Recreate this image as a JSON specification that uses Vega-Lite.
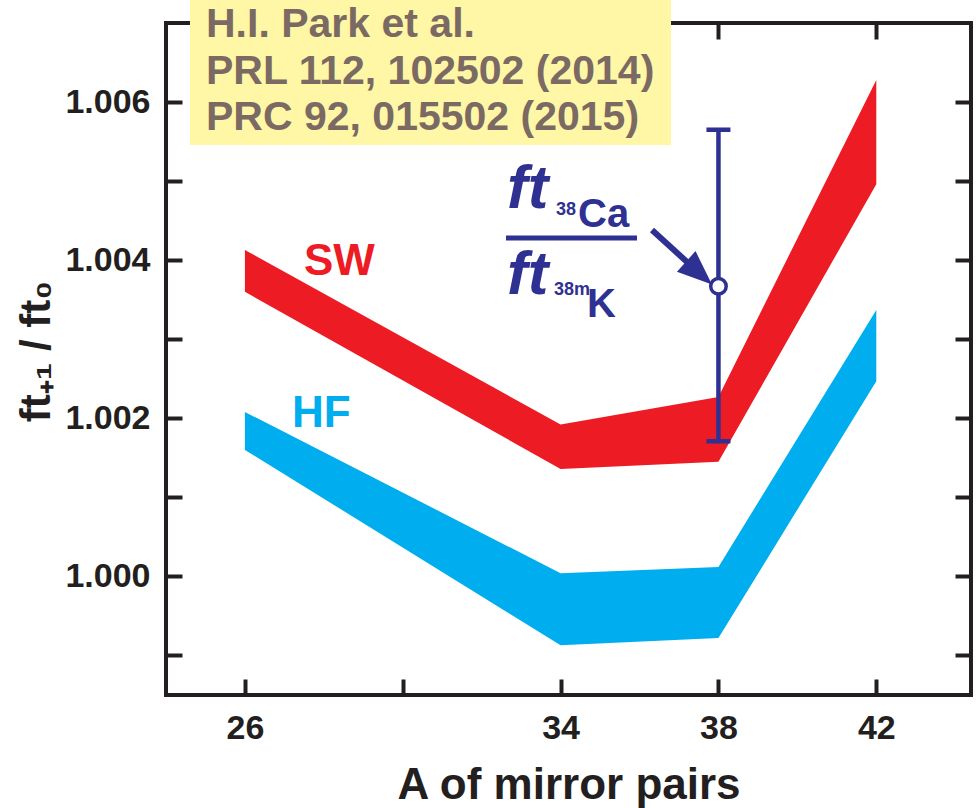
{
  "$schema": "https://vega.github.io/schema/vega-lite/v6.json",
  "width": 805,
  "height": 672,
  "autosize": {"type": "none"},
  "padding": {"left": 166, "top": 23, "right": 8, "bottom": 113},
  "background": "white",
  "config": {
    "view": {"stroke": "#231F20", "strokeWidth": 4},
    "font": "Liberation Sans",
    "axis": {
      "grid": false,
      "domain": false,
      "tickColor": "#231F20",
      "tickWidth": 4,
      "tickSize": -16,
      "labelFont": "Liberation Sans",
      "labelFontWeight": "bold",
      "labelFontSize": 34,
      "labelColor": "#231F20",
      "titleFont": "Liberation Sans",
      "titleFontWeight": "bold",
      "titleColor": "#231F20"
    }
  },
  "datasets": {
    "bands": [
      {"model": "SW", "A": 26, "lo": 1.0036, "hi": 1.00413},
      {"model": "SW", "A": 34, "lo": 1.00136, "hi": 1.00192},
      {"model": "SW", "A": 38, "lo": 1.00145, "hi": 1.00227},
      {"model": "SW", "A": 42, "lo": 1.00496, "hi": 1.00628},
      {"model": "HF", "A": 26, "lo": 1.0016, "hi": 1.00208},
      {"model": "HF", "A": 34, "lo": 0.99913, "hi": 1.00004},
      {"model": "HF", "A": 38, "lo": 0.99922, "hi": 1.00012},
      {"model": "HF", "A": 42, "lo": 1.00247, "hi": 1.00337}
    ],
    "meas": [{"A": 38, "val": 1.00367, "lo": 1.00171, "hi": 1.00565}],
    "box": [{"A": 24.608, "A2": 36.798, "v": 1.005457, "v2": 1.007291}],
    "cite": [
      {"A": 25.014, "v": 1.006823, "text": "H.I. Park et al."},
      {"A": 25.014, "v": 1.006228, "text": "PRL 112, 102502 (2014)"},
      {"A": 25.014, "v": 1.005647, "text": "PRC 92, 015502 (2015)"}
    ],
    "models": [
      {"model": "SW", "A": 27.497, "v": 1.003813},
      {"model": "HF", "A": 27.193, "v": 1.00189}
    ],
    "notes": [
      {"kind": "ft", "A": 32.642, "v": 1.00466, "t": "ft"},
      {"kind": "ft", "A": 32.642, "v": 1.003572, "t": "ft"},
      {"kind": "iso", "A": 33.883, "v": 1.004571, "t": "38"},
      {"kind": "iso", "A": 33.833, "v": 1.00356, "t": "38m"},
      {"kind": "el", "A": 34.441, "v": 1.00442, "t": "Ca"},
      {"kind": "el", "A": 34.669, "v": 1.003281, "t": "K"}
    ],
    "frac": [{"A": 32.616, "A2": 35.936, "v": 1.004281}],
    "arrow": [{"A": 36.316, "v": 1.004382, "A2": 37.51, "v2": 1.003838}]
  },
  "resolve": {"axis": {"x": "independent", "y": "independent"}},
  "layer": [
    {
      "data": {"name": "bands"},
      "mark": {"type": "area", "opacity": 1},
      "encoding": {
        "x": {
          "field": "A", "type": "quantitative",
          "scale": {"domain": [24, 44.4], "nice": false, "zero": false},
          "axis": {
            "orient": "bottom",
            "values": [26, 30, 34, 38, 42],
            "labelExpr": "datum.value == 30 ? '' : datum.label",
            "labelPadding": 32,
            "title": "A of mirror pairs",
            "titleFontSize": 44,
            "titlePadding": 18
          }
        },
        "y": {
          "field": "hi", "type": "quantitative",
          "scale": {"domain": [0.9985, 1.007], "nice": false, "zero": false},
          "axis": {
            "orient": "left",
            "values": [0.999, 1.0, 1.001, 1.002, 1.003, 1.004, 1.005, 1.006],
            "labelExpr": "round(datum.value * 1000) % 2 == 0 ? format(datum.value, '.3f') : ''",
            "labelPadding": 32,
            "title": "ft₊₁ / ft₀",
            "titleFontSize": 42,
            "titlePadding": 6,
            "titleY": 328
          }
        },
        "y2": {"field": "lo"},
        "color": {
          "field": "model", "type": "nominal",
          "scale": {"domain": ["SW", "HF"], "range": ["#ED1C24", "#00AEEF"]},
          "legend": null
        }
      }
    },
    {
      "data": {"name": "meas"},
      "mark": {"type": "rule", "color": "#2E3192", "strokeWidth": 4.5},
      "encoding": {
        "x": {
          "field": "A", "type": "quantitative",
          "scale": {"domain": [24, 44.4], "nice": false, "zero": false},
          "axis": {"orient": "top", "values": [26, 30, 34, 38, 42], "labels": false, "title": null}
        },
        "y": {
          "field": "lo", "type": "quantitative",
          "scale": {"domain": [0.9985, 1.007], "nice": false, "zero": false},
          "axis": {"orient": "right", "values": [0.999, 1.0, 1.001, 1.002, 1.003, 1.004, 1.005, 1.006], "labels": false, "title": null}
        },
        "y2": {"field": "hi"}
      }
    },
    {
      "data": {"name": "meas"},
      "transform": [{"fold": ["lo", "hi"], "as": ["end", "cap"]}],
      "mark": {"type": "tick", "orient": "horizontal", "size": 24, "thickness": 4.5, "color": "#2E3192", "opacity": 1},
      "encoding": {
        "x": {"field": "A", "type": "quantitative", "scale": {"domain": [24, 44.4], "nice": false, "zero": false}, "axis": null},
        "y": {"field": "cap", "type": "quantitative", "scale": {"domain": [0.9985, 1.007], "nice": false, "zero": false}, "axis": null}
      }
    },
    {
      "data": {"name": "meas"},
      "mark": {"type": "point", "shape": "circle", "filled": true, "fill": "white", "stroke": "#2E3192", "strokeWidth": 3.5, "size": 240, "opacity": 1},
      "encoding": {
        "x": {"field": "A", "type": "quantitative", "scale": {"domain": [24, 44.4], "nice": false, "zero": false}, "axis": null},
        "y": {"field": "val", "type": "quantitative", "scale": {"domain": [0.9985, 1.007], "nice": false, "zero": false}, "axis": null}
      }
    },
    {
      "data": {"name": "box"},
      "mark": {"type": "rect", "color": "#FFF7A6", "opacity": 1},
      "encoding": {
        "x": {"field": "A", "type": "quantitative", "scale": {"domain": [24, 44.4], "nice": false, "zero": false}, "axis": null},
        "x2": {"field": "A2"},
        "y": {"field": "v", "type": "quantitative", "scale": {"domain": [0.9985, 1.007], "nice": false, "zero": false}, "axis": null},
        "y2": {"field": "v2"}
      }
    },
    {
      "data": {"name": "cite"},
      "mark": {"type": "text", "align": "left", "baseline": "alphabetic", "font": "Liberation Sans", "fontWeight": "bold", "fontSize": 41, "color": "#7B6A63"},
      "encoding": {
        "x": {"field": "A", "type": "quantitative", "scale": {"domain": [24, 44.4], "nice": false, "zero": false}, "axis": null},
        "y": {"field": "v", "type": "quantitative", "scale": {"domain": [0.9985, 1.007], "nice": false, "zero": false}, "axis": null},
        "text": {"field": "text"}
      }
    },
    {
      "data": {"name": "models"},
      "mark": {"type": "text", "align": "left", "baseline": "alphabetic", "font": "Liberation Sans", "fontWeight": "bold", "fontSize": 44},
      "encoding": {
        "x": {"field": "A", "type": "quantitative", "scale": {"domain": [24, 44.4], "nice": false, "zero": false}, "axis": null},
        "y": {"field": "v", "type": "quantitative", "scale": {"domain": [0.9985, 1.007], "nice": false, "zero": false}, "axis": null},
        "text": {"field": "model"},
        "color": {"field": "model", "type": "nominal", "scale": {"domain": ["SW", "HF"], "range": ["#ED1C24", "#00AEEF"]}, "legend": null}
      }
    },
    {
      "data": {"name": "notes"},
      "transform": [{"filter": "datum.kind == 'ft'"}],
      "mark": {"type": "text", "align": "left", "baseline": "alphabetic", "font": "Liberation Sans", "fontWeight": "bold", "fontStyle": "italic", "fontSize": 62, "color": "#2E3192"},
      "encoding": {
        "x": {"field": "A", "type": "quantitative", "scale": {"domain": [24, 44.4], "nice": false, "zero": false}, "axis": null},
        "y": {"field": "v", "type": "quantitative", "scale": {"domain": [0.9985, 1.007], "nice": false, "zero": false}, "axis": null},
        "text": {"field": "t"}
      }
    },
    {
      "data": {"name": "notes"},
      "transform": [{"filter": "datum.kind == 'iso'"}],
      "mark": {"type": "text", "align": "left", "baseline": "alphabetic", "font": "Liberation Sans", "fontWeight": "bold", "fontSize": 18, "color": "#2E3192"},
      "encoding": {
        "x": {"field": "A", "type": "quantitative", "scale": {"domain": [24, 44.4], "nice": false, "zero": false}, "axis": null},
        "y": {"field": "v", "type": "quantitative", "scale": {"domain": [0.9985, 1.007], "nice": false, "zero": false}, "axis": null},
        "text": {"field": "t"}
      }
    },
    {
      "data": {"name": "notes"},
      "transform": [{"filter": "datum.kind == 'el'"}],
      "mark": {"type": "text", "align": "left", "baseline": "alphabetic", "font": "Liberation Sans", "fontWeight": "bold", "fontSize": 40, "color": "#2E3192"},
      "encoding": {
        "x": {"field": "A", "type": "quantitative", "scale": {"domain": [24, 44.4], "nice": false, "zero": false}, "axis": null},
        "y": {"field": "v", "type": "quantitative", "scale": {"domain": [0.9985, 1.007], "nice": false, "zero": false}, "axis": null},
        "text": {"field": "t"}
      }
    },
    {
      "data": {"name": "frac"},
      "mark": {"type": "rule", "color": "#2E3192", "strokeWidth": 5},
      "encoding": {
        "x": {"field": "A", "type": "quantitative", "scale": {"domain": [24, 44.4], "nice": false, "zero": false}, "axis": null},
        "x2": {"field": "A2"},
        "y": {"field": "v", "type": "quantitative", "scale": {"domain": [0.9985, 1.007], "nice": false, "zero": false}, "axis": null}
      }
    },
    {
      "data": {"name": "arrow"},
      "mark": {"type": "rule", "color": "#2E3192", "strokeWidth": 6},
      "encoding": {
        "x": {"field": "A", "type": "quantitative", "scale": {"domain": [24, 44.4], "nice": false, "zero": false}, "axis": null},
        "x2": {"field": "A2"},
        "y": {"field": "v", "type": "quantitative", "scale": {"domain": [0.9985, 1.007], "nice": false, "zero": false}, "axis": null},
        "y2": {"field": "v2"}
      }
    },
    {
      "data": {"name": "arrow"},
      "mark": {"type": "point", "shape": "M 1 0 L -1 -0.8 L -1 0.8 Z", "filled": true, "color": "#2E3192", "size": 1200, "angle": 42, "opacity": 1},
      "encoding": {
        "x": {"field": "A2", "type": "quantitative", "scale": {"domain": [24, 44.4], "nice": false, "zero": false}, "axis": null},
        "y": {"field": "v2", "type": "quantitative", "scale": {"domain": [0.9985, 1.007], "nice": false, "zero": false}, "axis": null}
      }
    }
  ]
}
